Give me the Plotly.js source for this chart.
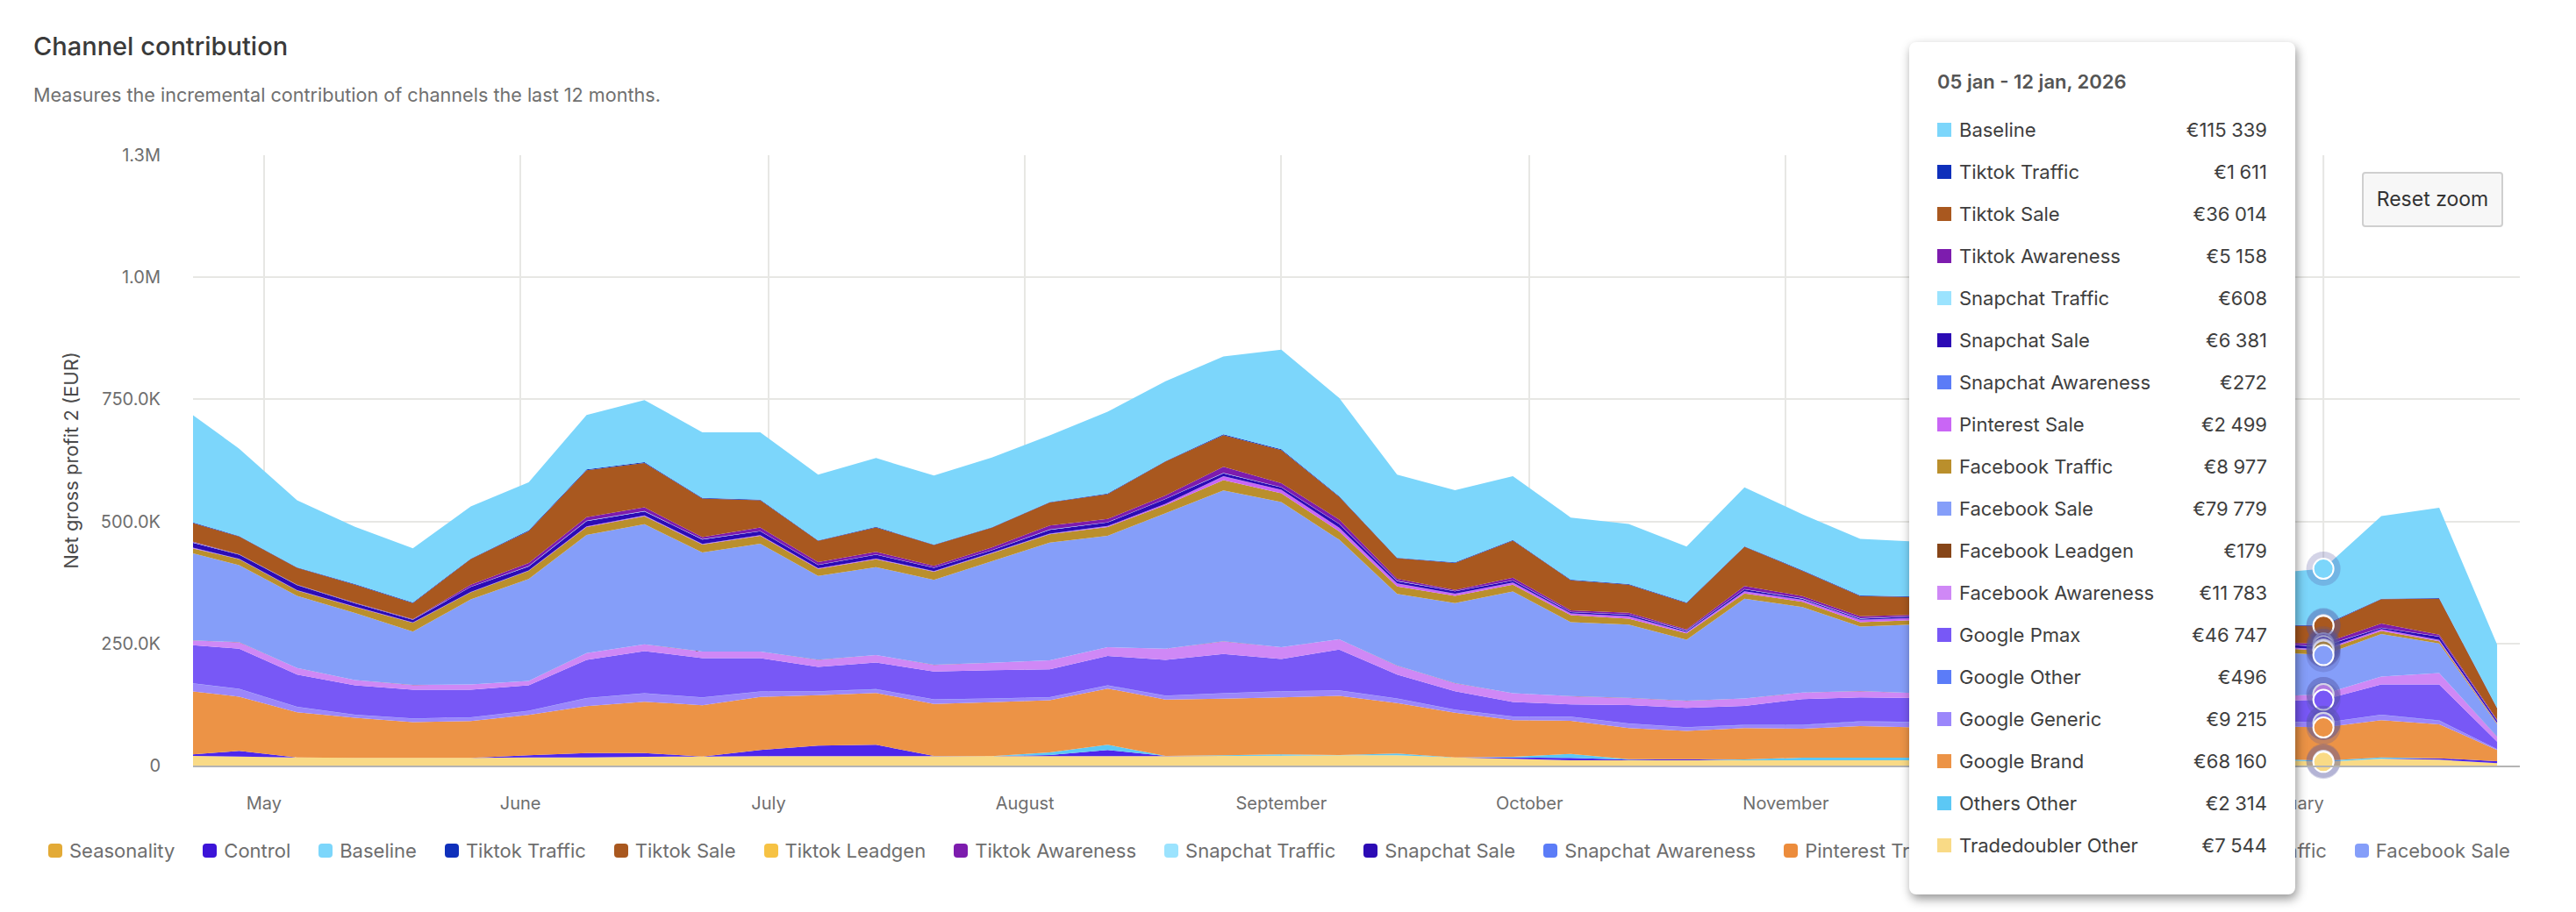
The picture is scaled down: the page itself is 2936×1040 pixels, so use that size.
<!DOCTYPE html>
<html><head><meta charset="utf-8">
<script src="https://cdn.plot.ly/plotly-3.0.1.min.js"></script>
<style>
html,body{margin:0;padding:0;background:#fff;width:2936px;height:1040px;overflow:hidden;font-family:Inter,"Noto Sans",sans-serif}
#chart{position:absolute;left:0;top:0;width:2936px;height:1040px}
#legend{position:absolute;left:55px;top:956px;display:flex;gap:32px;white-space:nowrap;font-size:22px;color:#6e6e6e;line-height:28px}
#legend .it{display:flex;align-items:center;gap:8px}
#legend .sw{width:16px;height:16px;border-radius:4px;display:inline-block}
#tip{position:absolute;left:2176px;top:48px;width:440px;height:972px;background:#fff;border-radius:8px;box-shadow:2px 5px 12px rgba(0,0,0,.42);color:#3e3e3e;font-size:22px}
#tip .hd{position:absolute;left:32px;top:30px;line-height:30px;font-weight:600;color:#555;font-size:22px}
#tip .row{position:absolute;left:32px;right:32px;height:30px;line-height:30px;display:flex;align-items:center}
#tip .sw{width:16px;height:16px;margin-right:9px;flex:none}
#tip .v{margin-left:auto}
#reset{position:absolute;left:2692px;top:196px;width:161px;height:63px;box-sizing:border-box;background:#f7f7f7;border:2px solid #cfcfcf;border-radius:4px;text-align:center;line-height:59px;font-size:23px;color:#333}
</style></head><body>
<div id="chart"></div>
<div id="legend"></div>
<div id="reset">Reset zoom</div>
<div id="tip"></div>
<script>
const dates=['2025-04-22 10:00','2025-04-28','2025-05-05','2025-05-12','2025-05-19','2025-05-26','2025-06-02','2025-06-09','2025-06-16','2025-06-23','2025-06-30','2025-07-07','2025-07-14','2025-07-21','2025-07-28','2025-08-04','2025-08-11','2025-08-18','2025-08-25','2025-09-01','2025-09-08','2025-09-15','2025-09-22','2025-09-29','2025-10-06','2025-10-13','2025-10-20','2025-10-27','2025-11-03','2025-11-10','2025-11-17','2025-11-24','2025-12-01','2025-12-08','2025-12-15','2025-12-22','2025-12-29','2026-01-05','2026-01-12','2026-01-19','2026-01-26'];
const tradedoublerOther=[19800,18600,16800,15600,15600,15600,16800,16800,18000,18600,19200,19200,19200,19200,19200,19200,19200,19200,19800,20400,21000,21000,16800,13800,10800,10800,10800,10800,10800,10800,10800,10800,10800,10800,10800,10800,12600,7544,13800,12000,4800];
const control=[3000,11400,0,0,0,0,4200,9000,7800,0,12600,21600,23400,600,0,2400,12600,600,0,0,0,0,0,3000,4800,1200,2400,0,0,0,0,0,0,0,0,0,0,0,0,3000,4200];
const othersOther=[0,0,0,0,0,0,0,0,0,0,0,0,0,0,0,5400,10800,0,1200,2400,600,3600,0,1200,8400,1200,0,1800,5400,5400,5400,3600,3600,3000,3000,3000,2400,2314,3000,0,0];
const googleBrand=[129000,111000,92400,82200,73200,75600,82800,96000,105000,105000,108600,103200,106200,106200,110400,106800,115200,115200,115800,117000,121200,103200,91200,75000,67800,63600,57600,64200,59400,64800,61800,62400,63600,64800,67200,69000,66000,68160,76200,69600,22800];
const googleGeneric=[16200,15600,10800,6000,7200,7200,7800,16200,16800,15600,10800,7800,7200,9000,7200,6000,6000,7800,10800,12000,10800,9000,6000,7200,7800,9000,7200,6000,7200,9000,10800,9600,9000,9000,9000,9000,10200,9215,10800,7200,1800];
const googleOther=[500,500,500,500,500,500,500,500,500,500,500,500,500,500,500,500,500,500,500,500,500,500,500,500,500,500,500,500,500,500,500,500,500,500,500,500,500,496,500,500,200];
const googlePmax=[78000,82200,66000,60000,58800,56400,52200,78000,86400,80400,68400,49800,54600,57000,58200,57000,60000,73200,80400,66000,83400,49200,37800,29400,25200,37800,39600,39000,52800,49200,49200,48000,46800,46800,45600,43200,40800,46747,61800,73800,15000];
const facebookAwareness=[9600,13200,13200,10800,9600,10800,9000,13800,13800,13200,13200,14400,15000,13800,15000,18000,18000,22800,25800,24000,21000,18000,16200,18000,16800,14400,14400,15000,13200,12600,9600,10200,9600,9000,8400,8400,7800,11783,16200,23400,10200];
const facebookLeadgen=[200,200,200,200,200,200,200,200,200,200,200,200,200,200,200,200,200,200,200,200,200,200,200,200,200,200,200,200,200,200,200,200,200,200,200,200,200,179,200,200,100];
const facebookSale=[178200,157800,147600,137400,109200,174000,208800,241800,246000,202800,220800,171600,180000,174000,207600,241200,228000,277200,309000,297000,204000,147000,163800,208200,151200,150000,124800,204000,175200,132000,141000,135000,129000,123000,117000,105000,93000,79779,87000,60600,25200];
const facebookTraffic=[10200,12000,10800,12000,18000,14400,16200,16200,16200,16200,16200,14400,16200,16200,16200,16800,18000,16800,21000,18000,16800,15000,15000,13800,14400,12000,13200,10800,10800,9000,9000,9000,9000,8400,8400,8400,8400,8977,6000,4200,1800];
const pinterestSale=[1200,600,600,600,600,600,600,1200,1200,1200,1200,1200,1200,1200,1200,1200,1800,2400,7800,7200,7200,6000,4200,4200,3600,4800,2400,4200,3600,4800,4200,4200,3600,3600,3000,3000,2400,2499,3600,2400,1200];
const snapchatAwareness=[300,300,300,300,300,300,300,300,300,300,300,300,300,300,300,300,300,300,300,300,300,300,300,300,300,300,300,300,300,300,300,300,300,300,300,300,300,272,300,300,100];
const snapchatSale=[10200,8400,10200,6600,5400,10200,8400,10800,8400,9000,7800,6600,7800,6600,4800,7800,7200,9600,6000,4800,7800,4800,4800,4200,2400,3000,2400,4200,2400,2400,3000,3000,3000,3000,3000,3000,3600,6381,2400,6600,4200];
const snapchatTraffic=[600,600,600,600,600,600,600,600,600,600,600,600,600,600,600,600,600,600,600,600,600,600,600,600,600,600,600,600,600,600,600,600,600,600,600,600,600,608,600,600,300];
const tiktokAwareness=[1200,600,600,600,600,4200,6600,7200,7800,4200,7200,5400,5400,3600,5400,8400,6600,6600,12600,7800,8400,4200,2400,5400,3000,3600,2400,6000,4800,4200,2400,2400,2400,2400,2400,2400,3000,5158,8400,3600,1800];
const tiktokSale=[38400,36000,34200,37200,33000,52200,64800,96000,90600,79200,55800,43200,49800,42600,40200,46800,51000,69600,64800,67800,46800,42000,55200,75600,61800,57600,54000,80400,51600,41400,36000,37200,39000,37200,36000,34800,34800,36014,49800,73800,23400];
const tiktokTraffic=[1200,1200,1200,1200,1200,1200,1800,1800,1800,1200,1200,1200,1200,1200,1200,1200,1200,1200,1800,1800,1200,1200,1200,1200,1200,1200,1200,1200,1200,1200,1200,1200,1200,1200,1200,1200,1200,1611,1200,1200,1200];
const baseline=[219600,178800,137400,117000,111000,106800,98400,111600,127200,134400,138000,134400,141000,141000,142800,136200,167400,163200,159600,204000,201000,169800,147600,130800,127200,123000,114600,120600,114600,115800,112200,114000,108000,105000,102000,105000,105000,115339,169200,184800,129600];

// bottom of the stack first
const stackNames=['Tradedoubler Other','Control','Others Other','Google Brand','Google Generic','Google Other','Google Pmax','Facebook Awareness','Facebook Leadgen','Facebook Sale','Facebook Traffic','Pinterest Sale','Snapchat Awareness','Snapchat Sale','Snapchat Traffic','Tiktok Awareness','Tiktok Sale','Tiktok Traffic','Baseline'];
const stackValues=[tradedoublerOther,control,othersOther,googleBrand,googleGeneric,googleOther,googlePmax,facebookAwareness,facebookLeadgen,facebookSale,facebookTraffic,pinterestSale,snapchatAwareness,snapchatSale,snapchatTraffic,tiktokAwareness,tiktokSale,tiktokTraffic,baseline];
const stackColors=['#f9da86','#4d26ec','#5cc8f5','#ec9346','#9b86fb','#5b7cf8','#7858f6','#cf88f6','#864518','#859ef9','#ba8f2c','#c966f5','#5b7cf7','#2c0bb5','#9be3fe','#7d1cae','#a9581f','#0f30bb','#7cd6fb'];

const legendNames=['Seasonality','Control','Baseline','Tiktok Traffic','Tiktok Sale','Tiktok Leadgen','Tiktok Awareness','Snapchat Traffic','Snapchat Sale','Snapchat Awareness','Pinterest Traffic','Pinterest Sale','Facebook Traffic','Facebook Sale'];
const legendColors=['#e3aa36','#3c14d8','#7cd6fb','#0f30bb','#a9581f','#f6c244','#7d1cae','#9be3fe','#2c0bb5','#5b7cf7','#ec8c3c','#c966f5','#ba8f2c','#859ef9'];

const yTickVals=[0,250000,500000,750000,1000000,1250000];
const yTickText=['0','250.0K','500.0K','750.0K','1.0M','1.3M'];
const xTickVals=['2025-05-01','2025-06-01','2025-07-01','2025-08-01','2025-09-01','2025-10-01','2025-11-01','2025-12-01','2026-01-01'];
const xTickText=['May','June','July','August','September','October','November','December','January'];
const hoverDate='2026-01-05';
const hoverLabel='05 jan - 12 jan, 2026';

const hoverIndex=dates.indexOf(hoverDate);
const traces=stackNames.map((n,i)=>({type:'scatter',mode:'none',name:n,x:dates,y:stackValues[i],stackgroup:'one',fill:'tonexty',fillcolor:stackColors[i],line:{width:0},showlegend:false,hoverinfo:'skip'}));

// hover markers sit at the top of each stacked band, lowest band drawn last
let running=0;const tops=stackValues.map(v=>(running+=v[hoverIndex]));
for(let i=stackNames.length-1;i>=0;i--){
  if(!stackValues[i][hoverIndex])continue;
  traces.push({type:'scatter',mode:'markers',x:[hoverDate],y:[tops[i]],cliponaxis:false,showlegend:false,hoverinfo:'skip',marker:{size:39,color:'rgba(85,85,160,0.25)',line:{width:0}}});
  traces.push({type:'scatter',mode:'markers',x:[hoverDate],y:[tops[i]],cliponaxis:false,showlegend:false,hoverinfo:'skip',marker:{size:23,color:stackColors[i],line:{width:2,color:'#ffffff'}}});
}

const layout={
  width:2936,height:1040,autosize:false,paper_bgcolor:'#ffffff',plot_bgcolor:'#ffffff',
  font:{family:'Inter, "Noto Sans", sans-serif',size:22,color:'#6e6e6e'},
  margin:{l:220,r:64,t:177,b:167,pad:0},
  title:{text:'Channel contribution',font:{size:29,color:'#3a3a3a',weight:500},xref:'container',yref:'container',x:38/2936,xanchor:'left',y:1-53/1040,yanchor:'middle',pad:{l:0,r:0,t:0,b:0}},
  xaxis:{type:'date',range:['2025-04-22 10:00','2026-01-28 18:00'],tickvals:xTickVals,ticktext:xTickText,showgrid:true,gridcolor:'#e7e7e4',gridwidth:2,ticks:'outside',ticklen:24,tickwidth:1,tickcolor:'rgba(0,0,0,0)',showline:true,linecolor:'#b4b4b4',linewidth:2,zeroline:false,tickfont:{size:20,color:'#6e6e6e'},fixedrange:true},
  yaxis:{range:[0,1250000],tickmode:'array',tickvals:yTickVals,ticktext:yTickText,showgrid:true,gridcolor:'#e7e7e4',gridwidth:2,zeroline:false,showline:false,ticks:'outside',ticklen:32,tickcolor:'rgba(0,0,0,0)',tickfont:{size:20,color:'#6e6e6e'},title:{text:'Net gross profit 2 (EUR)',font:{size:22,color:'#4a4a4a'},standoff:19},fixedrange:true},
  shapes:[{type:'line',layer:'below',xref:'x',yref:'paper',x0:hoverDate,x1:hoverDate,y0:0,y1:1,line:{color:'#e7e7e4',width:2}}],
  annotations:[{text:'Measures the incremental contribution of channels the last 12 months.',xref:'paper',yref:'paper',x:(36-220)/2652,y:(873-108)/696,xanchor:'left',yanchor:'middle',showarrow:false,font:{size:21.6,color:'#707070'}}],
  showlegend:false
};
Plotly.newPlot('chart',traces,layout,{displayModeBar:false,responsive:false});

document.getElementById('legend').innerHTML=legendNames.map((n,i)=>`<span class="it"><span class="sw" style="background:${legendColors[i]}"></span>${n}</span>`).join('');
const fmt=v=>'€'+String(v).replace(/\B(?=(\d{3})+$)/g,'\u2005');
let html=`<div class="hd">${hoverLabel}</div>`;
let row=0;
for(let i=stackNames.length-1;i>=0;i--){
  if(!stackValues[i][hoverIndex])continue;
  html+=`<div class="row" style="top:${85+48*row}px"><span class="sw" style="background:${stackColors[i]}"></span><span>${stackNames[i]}</span><span class="v">${fmt(stackValues[i][hoverIndex])}</span></div>`;
  row++;
}
document.getElementById('tip').innerHTML=html;
</script>
</body></html>
